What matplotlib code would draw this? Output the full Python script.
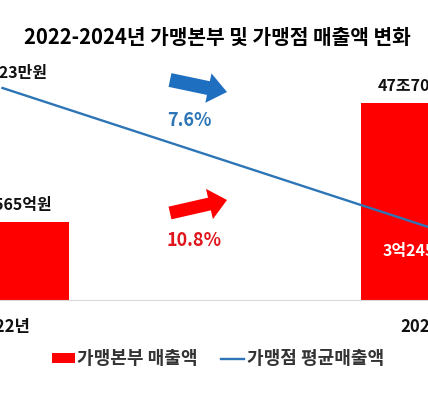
import matplotlib
matplotlib.use("Agg")
import matplotlib.pyplot as plt
from matplotlib.patches import FancyArrow, Patch
from matplotlib.lines import Line2D

plt.rcParams['font.family'] = ['Noto Sans CJK KR', 'DejaVu Sans']

# ---- data ----
years = ["2022년", "2024년"]
hq_sales = [43.0565, 47.7066]              # 조원
hq_labels = ["43조0565억원", "47조7066억원"]
store_avg = [3.5123, 3.2454]               # 억원
store_labels = ["3억5123만원", "3억2454만원"]
hq_growth = "10.8%"
store_change = "7.6%"
title = "2022-2024년 가맹본부 및 가맹점 매출액 변화"
legend_names = ["가맹본부 매출액", "가맹점 평균매출액"]

RED = "#FF0000"
BLUE = "#2E75B6"
ARROW_BLUE = "#1F6FC0"

fig = plt.figure(figsize=(4.28, 4.0), dpi=100)
ax = fig.add_axes([0.0, 0.25, 1.0, 0.639])
x = list(range(len(years)))

ax.bar(x, hq_sales, width=0.315, color=RED, zorder=2)
ax.set_xlim(-0.00582, 0.99069)
ax.set_ylim(40, 50)

for xi, v, lab in zip(x, hq_sales, hq_labels):
    ax.annotate(lab, (xi, v), xytext=(0, 12), textcoords="offset points",
                ha="center", va="center", fontsize=11.5, fontweight="bold",
                color="#111111", annotation_clip=False)

ax.set_xticks(x)
ax.set_xticklabels(years, fontsize=12, fontweight="bold", color="#111111")
ax.tick_params(axis="x", length=0, pad=13)
ax.set_yticks([])
for s in ["top", "left", "right"]:
    ax.spines[s].set_visible(False)
ax.spines["bottom"].set_color("#D9D9D9")
ax.spines["bottom"].set_linewidth(0.8)

ax2 = ax.twinx()
ax2.plot(x, store_avg, color=BLUE, lw=1.7, zorder=3)
ax2.set_ylim(3.105, 3.596)
ax2.set_yticks([])
for s in ["top", "left", "right", "bottom"]:
    ax2.spines[s].set_visible(False)

store_offsets = [11, -17]
store_colors = ["#111111", "white"]
for xi, v, lab, off, c in zip(x, store_avg, store_labels, store_offsets, store_colors):
    ax2.annotate(lab, (xi, v), xytext=(0, off), textcoords="offset points",
                 ha="center", va="center", fontsize=11.5, fontweight="bold",
                 color=c, annotation_clip=False)

# decorative arrows (inches in figure)
tr = fig.dpi_scale_trans
fig.add_artist(FancyArrow(1.70, 3.20, 0.57, -0.12, width=0.14, head_width=0.30,
                          head_length=0.19, length_includes_head=True,
                          color=ARROW_BLUE, transform=tr, lw=0))
fig.add_artist(FancyArrow(1.70, 1.87, 0.57, 0.13, width=0.13, head_width=0.31,
                          head_length=0.18, length_includes_head=True,
                          color=RED, transform=tr, lw=0))
fig.text(189 / 428, 1 - 121 / 400, store_change, ha="center", va="center",
         fontsize=13, fontweight="bold", color=BLUE)
fig.text(194 / 428, 1 - 240 / 400, hq_growth, ha="center", va="center",
         fontsize=13, fontweight="bold", color="#E0161E")

fig.text(217 / 428, 1 - 37 / 400, title, ha="center", va="center",
         fontsize=14.6, fontweight="bold", color="black")

handles = [Patch(facecolor=RED, edgecolor="none"),
           Line2D([0], [0], color=BLUE, lw=1.7)]
fig.legend(handles, legend_names, loc="center", bbox_to_anchor=(218 / 428, 1 - 359 / 400),
           ncol=2, frameon=False, handlelength=1.25, handleheight=0.5,
           handletextpad=0.15, columnspacing=1.3,
           prop={"size": 13, "weight": "bold"}, labelcolor="#333333")

fig.savefig("out.png", dpi=100)
